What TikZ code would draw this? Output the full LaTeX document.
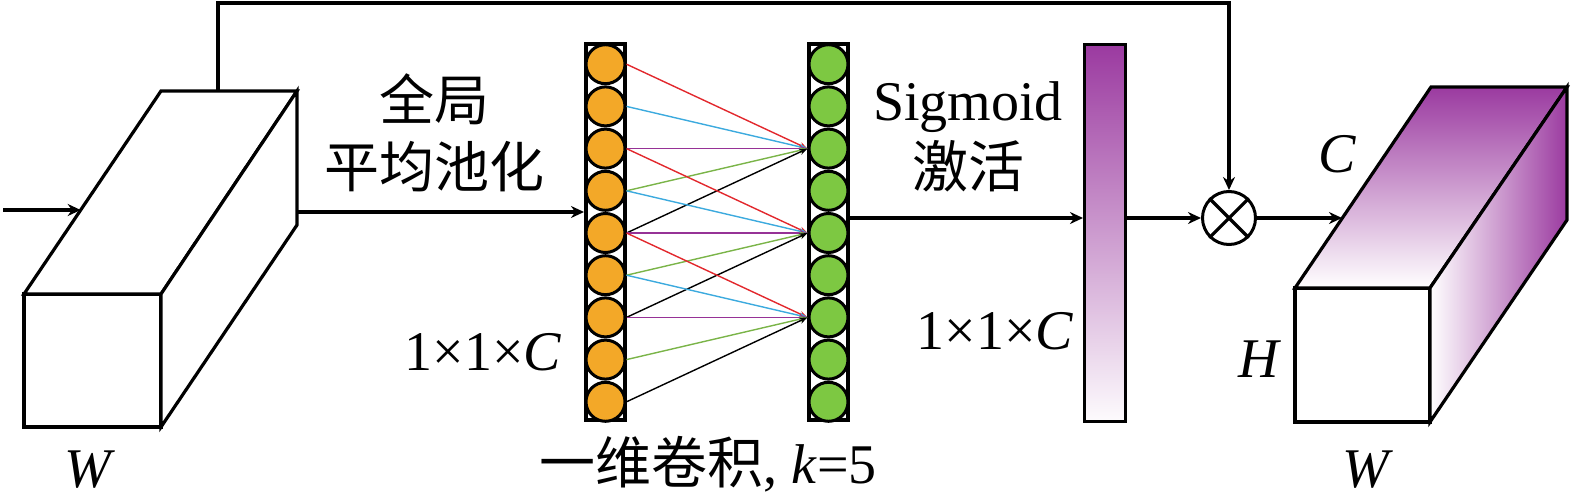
\documentclass[tikz,border=0pt]{standalone}
\usepackage{fontspec}
\setmainfont{Liberation Serif}
\newfontfamily\cjk{Noto Sans CJK SC}
\usetikzlibrary{arrows.meta,calc}
\definecolor{dotorange}{RGB}{243,168,40}
\definecolor{dotgreen}{RGB}{125,200,66}
\definecolor{purp}{RGB}{155,58,160}
\definecolor{lred}{RGB}{226,40,45}
\definecolor{lblue}{RGB}{60,170,222}
\definecolor{lpurple}{RGB}{150,50,150}
\definecolor{lgreen}{RGB}{122,180,72}

\begin{document}
\begin{tikzpicture}[x=0.5pt, y=-0.5pt, line width=1.6pt, % 1単位=1px、y軸は下向き
  txt/.style={font=\fontsize{28pt}{33.5pt}\selectfont},
  cjktxt/.style={font=\fontsize{27.5pt}{33.5pt}\selectfont\cjk},
  arr/.style={-{Stealth[length=6.5pt,width=6pt]}},
  tarr/.style={line width=0.7pt, -{Stealth[length=4pt,width=3pt]}},
  dot/.style={circle, draw, line width=1.5pt, minimum size=19.5pt, inner sep=0pt},
  col/.style={draw, fill=white, line width=2pt, minimum width=19.5pt, minimum height=188pt, inner sep=0pt}]
  \useasboundingbox (0,0) rectangle (1575,503); % 余白込みの大きさ

  % 入力の直方体
  \draw[fill=white] (24,294) rectangle (161,427);
  \draw[fill=white] (24,294) -- (161,91) -- (297,91) -- (161,294) -- cycle;
  \draw[fill=white] (161,294) -- (297,91) -- (297,225) -- (161,427) -- cycle;
  \coordinate (in) at (3,210);
  \coordinate (lin) at (80.7,210); % 斜めの辺上
  \coordinate (lout) at (297,212);
  \coordinate (ltop) at (218,91);
  \coordinate (lcorner) at (218,3);
  \draw[arr] (in) -- (lin);
  \node[txt, anchor=base] (wl) at (90,487) {\textit{W}};

  % 一次元畳み込みの列
  \node[col] (ocol) at (605.5,232) {};
  \node[col] (gcol) at (828.5,232) {};
  \foreach \i in {1,...,9} {
    \node[dot, fill=dotorange] (o\i) at (605.5,{22+\i*42.2}) {};
    \node[dot, fill=dotgreen] (g\i) at (828.5,{22+\i*42.2}) {};
  }
  \foreach \t in {3,5,7} {
    \foreach \d/\c in {-2/lred,-1/lblue,0/lpurple,1/lgreen,2/black} {
      \pgfmathtruncatemacro{\s}{\t+\d}
      \draw[tarr, \c] (o\s.east) -- (g\t.west); % k=5の結合
    }
  }
  \draw[arr] (lout) -- (lout -| ocol.west);
  \node[cjktxt, align=center] (pool) at (434,133) {全局\\平均池化};
  \node[txt, anchor=base] (size1) at (483,370) {1×1×\textit{C}};
  \node[txt, anchor=base] (conv) at (708,483) {{\cjk 一维卷积}, \textit{k}=5};

  % Sigmoidの出力と乗算
  \node[draw, line width=1.5pt, top color=purp, bottom color=purp!2, minimum width=20.5pt, minimum height=188.5pt, inner sep=0pt] (bar) at (1105,233) {};
  \node[circle, draw, line width=1.5pt, minimum size=26.5pt, inner sep=0pt] (mul) at (1229,218) {};
  \draw (mul.north west) -- (mul.south east);
  \draw (mul.north east) -- (mul.south west);
  \draw[arr] (gcol.east |- mul) -- (bar.west |- mul);
  \draw[arr] (bar.east |- mul) -- (mul.west);
  \draw[arr] (ltop) -- (lcorner) -| (mul.north); % スキップ接続
  \node[txt, align=center] (sig) at (968,137) {Sigmoid\\{\cjk 激活}};
  \node[txt, anchor=base] (size2) at (995,349) {1×1×\textit{C}};

  % 出力の直方体
  \draw[fill=white] (1295,288) rectangle (1430,422);
  \shade[top color=purp, bottom color=white] (1295,288) -- (1431,87) -- (1567,87) -- (1430,288) -- cycle;
  \draw (1295,288) -- (1431,87) -- (1567,87) -- (1430,288) -- cycle;
  \shade[left color=white, right color=purp] (1430,288) -- (1567,87) -- (1567,220) -- (1430,422) -- cycle;
  \draw (1430,288) -- (1567,87) -- (1567,220) -- (1430,422) -- cycle;
  \coordinate (rin) at (1342,218); % 斜めの辺上
  \draw[arr] (mul.east) -- (rin);
  \node[txt, anchor=base] (cr) at (1337,172) {\textit{C}};
  \node[txt, anchor=base] (hr) at (1260,377) {\textit{H}};
  \node[txt, anchor=base] (wr) at (1368,487) {\textit{W}};
\end{tikzpicture}
\end{document}
